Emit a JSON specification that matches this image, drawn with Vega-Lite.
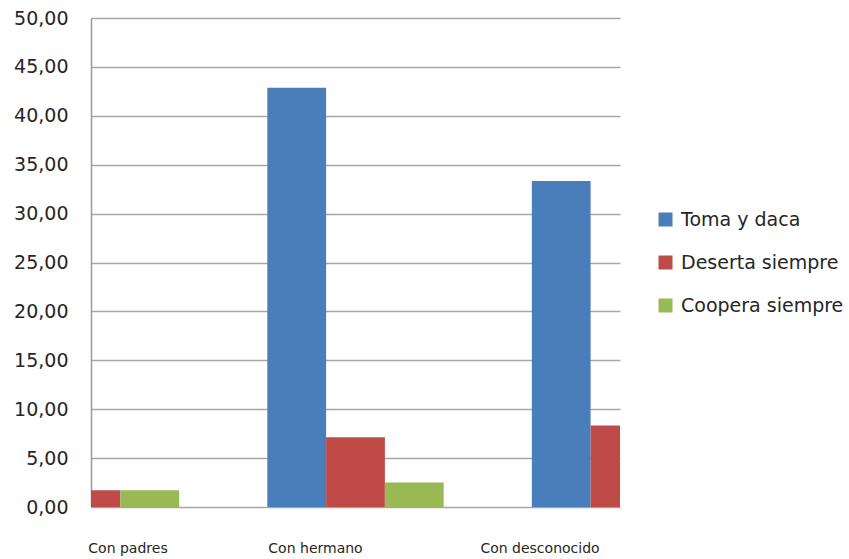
{
  "$schema": "https://vega.github.io/schema/vega-lite/v6.json",
  "autosize": "none",
  "width": 529,
  "height": 489,
  "padding": {"left": 91, "top": 18, "right": 229, "bottom": 52},
  "background": "white",
  "config": {
    "view": {"stroke": null},
    "font": "DejaVu Sans"
  },
  "data": {
    "values": [
      {"grupo": "Con padres", "estrategia": "Toma y daca", "valor": 0},
      {"grupo": "Con padres", "estrategia": "Deserta siempre", "valor": 1.7},
      {"grupo": "Con padres", "estrategia": "Coopera siempre", "valor": 1.7},
      {"grupo": "Con hermano", "estrategia": "Toma y daca", "valor": 42.86},
      {"grupo": "Con hermano", "estrategia": "Deserta siempre", "valor": 7.14},
      {"grupo": "Con hermano", "estrategia": "Coopera siempre", "valor": 2.5},
      {"grupo": "Con desconocido", "estrategia": "Toma y daca", "valor": 33.33},
      {"grupo": "Con desconocido", "estrategia": "Deserta siempre", "valor": 8.33},
      {"grupo": "Con desconocido", "estrategia": "Coopera siempre", "valor": 0}
    ]
  },
  "layer": [
    {
      "mark": {"type": "point", "opacity": 0},
      "encoding": {
        "y": {
          "field": "valor",
          "type": "quantitative",
          "scale": {"domain": [0, 50], "nice": false},
          "axis": {
            "title": null,
            "values": [0, 5, 10, 15, 20, 25, 30, 35, 40, 45, 50],
            "labelExpr": "replace(format(datum.value, '.2f'), '.', ',')",
            "ticks": false,
            "labelPadding": 23,
            "labelFont": "DejaVu Sans",
            "labelFontSize": 19,
            "labelColor": "#262626",
            "domainColor": "#9a9a9a",
            "domainWidth": 1.5,
            "gridColor": "#a6a6a6",
            "gridWidth": 1.5
          }
        }
      }
    },
    {
      "mark": {"type": "bar", "clip": true},
      "encoding": {
        "x": {
          "field": "grupo",
          "type": "nominal",
          "sort": ["Con padres", "Con hermano", "Con desconocido"],
          "scale": {"range": [-88.17, 617.17], "paddingInner": 0.3333, "paddingOuter": 0},
          "axis": {
            "title": null,
            "domain": false,
            "ticks": false,
            "grid": false,
            "labelAngle": 0,
            "labelFont": "DejaVu Sans",
            "labelFontSize": 14,
            "labelColor": "#262626",
            "labelPadding": 34,
            "labelBaseline": "top",
            "encoding": {
              "labels": {
                "dx": {"value": {"expr": "datum.value == 'Con padres' ? 37 : datum.value == 'Con hermano' ? -40 : -80"}}
              }
            }
          }
        },
        "xOffset": {
          "field": "estrategia",
          "type": "nominal",
          "sort": ["Toma y daca", "Deserta siempre", "Coopera siempre"],
          "scale": {"paddingInner": 0, "paddingOuter": 0}
        },
        "y": {
          "field": "valor",
          "type": "quantitative",
          "axis": null
        },
        "color": {
          "field": "estrategia",
          "type": "nominal",
          "sort": ["Toma y daca", "Deserta siempre", "Coopera siempre"],
          "scale": {
            "domain": ["Toma y daca", "Deserta siempre", "Coopera siempre"],
            "range": ["#4a7ebb", "#be4b48", "#98b954"]
          },
          "legend": {
            "title": null,
            "orient": "none",
            "legendX": 565,
            "legendY": 192,
            "padding": 0,
            "symbolType": "square",
            "symbolSize": 196,
            "symbolStrokeWidth": 0,
            "labelFont": "DejaVu Sans",
            "labelFontSize": 19,
            "labelColor": "#262626",
            "labelOffset": 6,
            "labelLimit": 300,
            "rowPadding": 23
          }
        }
      }
    }
  ],
  "resolve": {
    "scale": {"x": "independent"},
    "axis": {"y": "independent"}
  }
}
